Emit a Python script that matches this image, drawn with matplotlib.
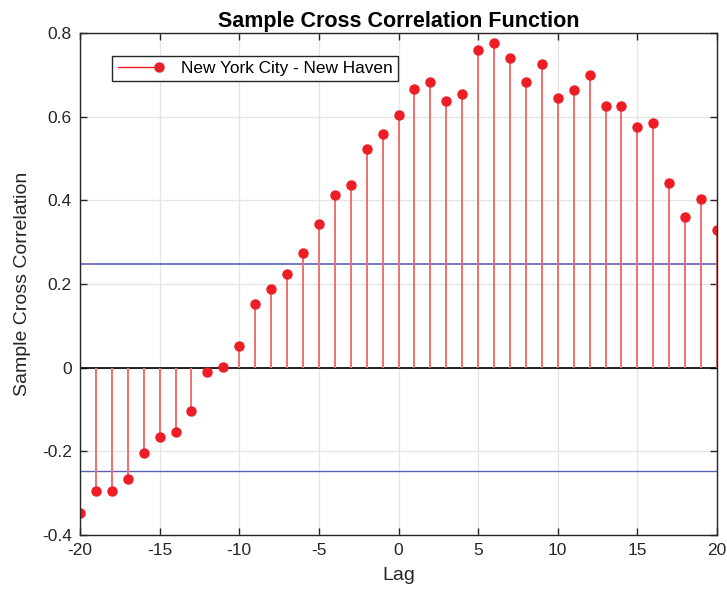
import numpy as np
import matplotlib
matplotlib.use("Agg")
import matplotlib.pyplot as plt
from matplotlib.lines import Line2D
from matplotlib.legend_handler import HandlerLine2D

lags = list(range(-20, 21))
xcf = [-0.347, -0.296, -0.295, -0.265, -0.203, -0.165, -0.154, -0.103, -0.011, 0.002,
       0.052, 0.153, 0.188, 0.224, 0.273, 0.343, 0.413, 0.436, 0.523, 0.558,
       0.604, 0.666, 0.683, 0.637, 0.655, 0.760, 0.777, 0.740, 0.684, 0.726,
       0.645, 0.663, 0.700, 0.626, 0.626, 0.576, 0.585, 0.442, 0.361, 0.404, 0.328]
bound = 0.248
series_label = "New York City - New Haven"
xticks = [-20, -15, -10, -5, 0, 5, 10, 15, 20]
yticks = [-0.4, -0.2, 0, 0.2, 0.4, 0.6, 0.8]
ytick_labels = ['-0.4', '-0.2', '0', '0.2', '0.4', '0.6', '0.8']

plt.rcParams['font.family'] = ['Liberation Sans', 'DejaVu Sans']

fig = plt.figure(figsize=(7.27, 5.99), dpi=100)
ax = fig.add_axes([80/727, 1-535/599, (717-80)/727, (535-33)/599])

red = '#ee1c24'
ml, sl, bl = ax.stem(lags, xcf, basefmt=' ')
plt.setp(sl, color='#f07070', linewidth=1.4)
plt.setp(ml, color=red, marker='o', markersize=6.5, markeredgecolor=red)
ax.axhline(0, color='black', linewidth=1.2, zorder=1)
ax.axhline(bound, color='#5a62b8', linewidth=1.2, zorder=1)
ax.axhline(-bound, color='#5a62b8', linewidth=1.0, zorder=1)

ax.set_xlim(-20, 20)
ax.set_ylim(-0.4, 0.8)
ax.set_xticks(xticks)
ax.set_yticks(yticks)
ax.set_xticklabels([str(t) for t in xticks])
ax.set_yticklabels(ytick_labels)
ax.grid(True, color='#e6e6e6', linewidth=1.0)
ax.set_axisbelow(True)
ax.tick_params(direction='in', top=True, right=True, length=5, width=1,
               colors='#262626', labelsize=12.5, pad=6)
for s in ax.spines.values():
    s.set_color('#262626')
    s.set_linewidth(1.0)

ax.set_title('Sample Cross Correlation Function', fontsize=15.5, fontweight='bold', pad=4)
ax.set_xlabel('Lag', fontsize=14, color='#262626', labelpad=6)
ax.set_ylabel('Sample Cross Correlation', fontsize=14, color='#262626', labelpad=8)


class EndMarkerHandler(HandlerLine2D):
    def create_artists(self, legend, orig_handle, xdescent, ydescent, width, height, fontsize, trans):
        y = height / 2 - ydescent
        line = Line2D([-xdescent, width - xdescent], [y, y], color='#ee1c24', linewidth=1.0)
        mk = Line2D([width - xdescent], [y], marker='o', color=red, markersize=6.5, linestyle='none')
        line.set_transform(trans)
        mk.set_transform(trans)
        return [line, mk]

h = Line2D([], [], color=red)
leg = ax.legend([h], [series_label], loc='upper left', bbox_to_anchor=(0.051, 0.955),
                handler_map={h: EndMarkerHandler()}, fontsize=12.4, handlelength=2.4,
                fancybox=False, framealpha=1, edgecolor='#262626', borderpad=0.3,
                handletextpad=1.3, borderaxespad=0)
leg.get_frame().set_linewidth(1.0)

fig.savefig('out.png', dpi=100)
